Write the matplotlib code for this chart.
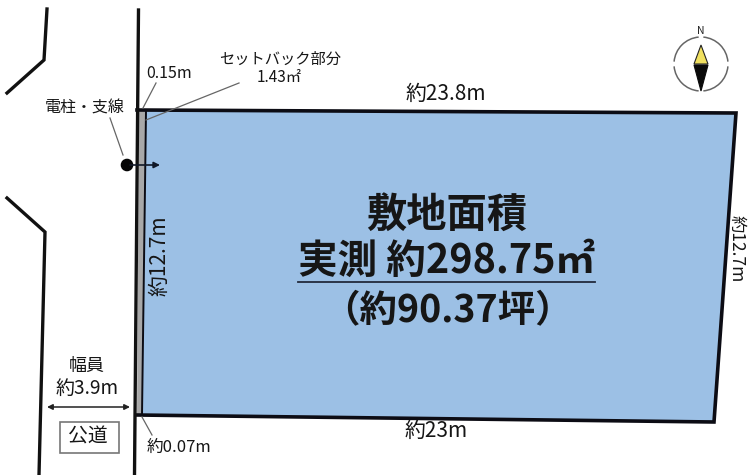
import matplotlib
matplotlib.use("Agg")
import matplotlib.pyplot as plt
from matplotlib.patches import Polygon, Circle, Rectangle, Arc

plt.rcParams['font.family'] = ['Noto Sans CJK JP', 'DejaVu Sans']

W, H = 749, 475
site_xy = [(146, 111), (736, 113), (714, 422), (142, 415)]
setback_xy = [(139, 110), (146, 110), (142, 415), (137, 415)]
road_right_x = [138.5, 136.5, 134.5]
road_right_y = [10, 240, 475]
road_upper_x = [47, 44, 7]
road_upper_y = [9, 60, 93]
road_lower_x = [7, 45, 39]
road_lower_y = [198, 232, 475]
leaders = [
    ([156, 143], [83, 108]),
    ([239, 146], [83, 120]),
    ([110, 123], [118, 155]),
    ([142, 152], [417, 435]),
]
labels = [
    (169, 73, "0.15m", 11.5, 0, 'normal'),
    (280, 59, "セットバック部分", 11, 0, 'normal'),
    (279, 78, "1.43㎡", 11, 0, 'normal'),
    (85, 108, "電柱・支線", 11.5, 0, 'normal'),
    (446, 94, "約23.8m", 15, 0, 'normal'),
    (436, 431, "約23m", 15, 0, 'normal'),
    (159, 256, "約12.7m", 15, 90, 'normal'),
    (737, 249, "約12.7m", 12.5, -90, 'normal'),
    (87, 366, "幅員", 13, 0, 'normal'),
    (87, 388, "約3.9m", 13.7, 0, 'normal'),
    (88, 437, "公道", 14.3, 0, 'normal'),
    (179, 447, "約0.07m", 12, 0, 'normal'),
    (447, 215, "敷地面積", 29, 0, 'bold'),
    (447, 261, "実測 約298.75㎡", 28.5, 0, 'bold'),
    (447, 311, "（約90.37坪）", 27, 0, 'bold'),
]

fig = plt.figure(figsize=(W / 100, H / 100), dpi=100)
ax = fig.add_axes([0, 0, 1, 1])
ax.set_xlim(0, W)
ax.set_ylim(H, 0)
ax.axis('off')

ax.add_patch(Polygon(setback_xy, closed=True, fc='#a8a8a8', ec='none', zorder=1))
ax.add_patch(Polygon(site_xy, closed=True, fc='#9cc0e5', ec='none', zorder=1))
ax.plot([137, 736, 714, 137], [110, 113, 422, 415], color='#0c0c14', lw=2.6, zorder=3, solid_joinstyle='miter')
ax.plot([146, 142], [111, 415], color='#0c0c14', lw=1.4, zorder=3)
for xs, ys in [(road_right_x, road_right_y), (road_upper_x, road_upper_y), (road_lower_x, road_lower_y)]:
    ax.plot(xs, ys, color='#111111', lw=2.4, zorder=3, solid_joinstyle='miter')
for xs, ys in leaders:
    ax.plot(xs, ys, color='#666666', lw=0.9, zorder=4)

ax.add_patch(Circle((127, 165), 6.3, fc='#050505', ec='none', zorder=5))
ax.annotate('', xy=(160, 165), xytext=(130, 165), zorder=5,
            arrowprops=dict(arrowstyle='-|>', color='#101828', lw=1.2, mutation_scale=9, shrinkA=0, shrinkB=0))
ax.annotate('', xy=(130, 407), xytext=(47, 407), zorder=5,
            arrowprops=dict(arrowstyle='<|-|>', color='#222222', lw=1.1, mutation_scale=8, shrinkA=0, shrinkB=0))
ax.add_patch(Rectangle((60, 422), 59, 31, fc='white', ec='#777777', lw=1.2, zorder=2))

for x, y, s, size, rot, weight in labels:
    ax.text(x, y, s, fontsize=size, rotation=rot, fontweight=weight, ha='center', va='center',
            color='#161616', zorder=6)
ax.plot([298, 595], [282, 282], color='#222a3c', lw=1.3, zorder=6)

for start in [5, 95, 185, 275]:
    ax.add_patch(Arc((701, 64), 54, 54, theta1=start, theta2=start + 80, color='#666666', lw=1.1, zorder=2))
ax.add_patch(Polygon([(701, 45), (694, 64), (708, 64)], closed=True, fc='#f0e060', ec='#222222', lw=0.8, zorder=3))
ax.add_patch(Polygon([(694, 65), (708, 65), (701, 91)], closed=True, fc='#0a0a0a', ec='#0a0a0a', lw=0.8, zorder=3))
ax.text(701, 31, "N", fontsize=7.5, ha='center', va='center', color='#222222', zorder=6)

fig.savefig('out.png', dpi=100, facecolor='white')
